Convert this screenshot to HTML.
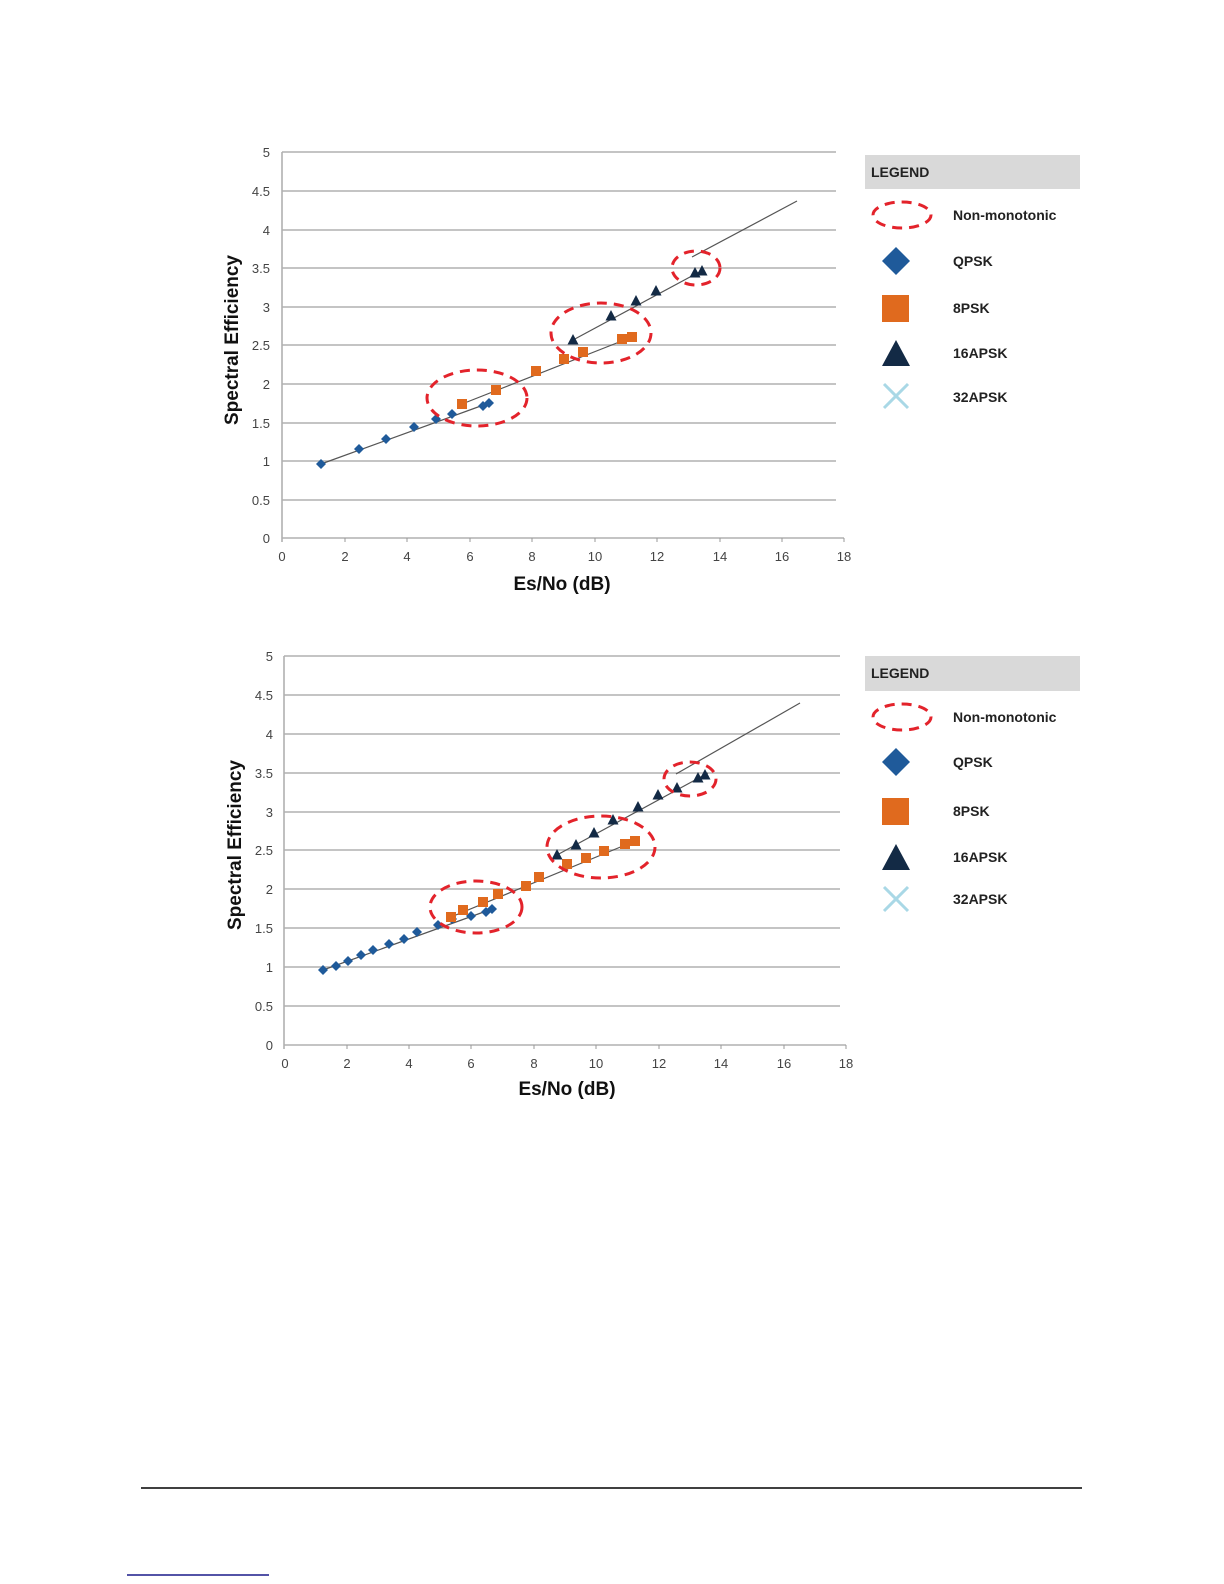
<!DOCTYPE html>
<html><head><meta charset="utf-8"><style>
html,body{margin:0;padding:0;background:#fff;}
svg{display:block;}
.tk{font-family:"Liberation Sans",Arial,sans-serif;font-size:13px;fill:#444;}
.ax{font-family:"Liberation Sans",Arial,sans-serif;font-size:19px;font-weight:bold;fill:#111;}
.lg{font-family:"Liberation Sans",Arial,sans-serif;font-size:14px;font-weight:bold;fill:#222;}
</style></head><body>
<svg width="1224" height="1584" viewBox="0 0 1224 1584" xmlns="http://www.w3.org/2000/svg">
<defs>
<g id="dm"><path d="M0,-5 L5,0 L0,5 L-5,0Z" fill="#1f5a9a"/></g>
<g id="sq"><rect x="-5" y="-5" width="10" height="10" fill="#e06a1e"/></g>
<g id="tr"><path d="M0,-6 L5.5,4.5 L-5.5,4.5Z" fill="#132a45"/></g>
</defs>

<!-- ===== CHART 1 ===== -->
<g stroke="#b0b0b0" stroke-width="1.6">
<line x1="282" y1="152" x2="836" y2="152"/><line x1="282" y1="191" x2="836" y2="191"/>
<line x1="282" y1="230" x2="836" y2="230"/><line x1="282" y1="268" x2="836" y2="268"/>
<line x1="282" y1="307" x2="836" y2="307"/><line x1="282" y1="345" x2="836" y2="345"/>
<line x1="282" y1="384" x2="836" y2="384"/><line x1="282" y1="423" x2="836" y2="423"/>
<line x1="282" y1="461" x2="836" y2="461"/><line x1="282" y1="500" x2="836" y2="500"/>
<line x1="282" y1="538" x2="844" y2="538"/>
<line x1="282" y1="152" x2="282" y2="542"/>
</g>
<g stroke="#999" stroke-width="1">
<line x1="345" y1="538" x2="345" y2="542"/><line x1="407" y1="538" x2="407" y2="542"/><line x1="470" y1="538" x2="470" y2="542"/><line x1="532" y1="538" x2="532" y2="542"/><line x1="595" y1="538" x2="595" y2="542"/><line x1="657" y1="538" x2="657" y2="542"/><line x1="720" y1="538" x2="720" y2="542"/><line x1="782" y1="538" x2="782" y2="542"/><line x1="844" y1="538" x2="844" y2="542"/>
</g>
<g class="tk" text-anchor="end">
<text x="270" y="157">5</text><text x="270" y="196">4.5</text><text x="270" y="235">4</text><text x="270" y="273">3.5</text><text x="270" y="312">3</text><text x="270" y="350">2.5</text><text x="270" y="389">2</text><text x="270" y="428">1.5</text><text x="270" y="466">1</text><text x="270" y="505">0.5</text><text x="270" y="543">0</text>
</g>
<g class="tk" text-anchor="middle">
<text x="282" y="561">0</text><text x="345" y="561">2</text><text x="407" y="561">4</text><text x="470" y="561">6</text><text x="532" y="561">8</text><text x="595" y="561">10</text><text x="657" y="561">12</text><text x="720" y="561">14</text><text x="782" y="561">16</text><text x="844" y="561">18</text>
</g>
<text class="ax" text-anchor="middle" transform="translate(238,340) rotate(-90)">Spectral Efficiency</text>
<text class="ax" text-anchor="middle" x="562" y="590">Es/No (dB)</text>

<g stroke="#555" stroke-width="1.2" fill="none">
<line x1="321" y1="464" x2="489" y2="403"/>
<line x1="462" y1="404" x2="632" y2="337"/>
<line x1="573" y1="340" x2="703" y2="270"/>
<line x1="692" y1="257" x2="797" y2="201"/>
</g>
<g>
<use href="#dm" x="321" y="464"/><use href="#dm" x="359" y="449"/><use href="#dm" x="386" y="439"/><use href="#dm" x="414" y="427"/><use href="#dm" x="436" y="419"/><use href="#dm" x="452" y="414"/><use href="#dm" x="483" y="406"/><use href="#dm" x="489" y="403"/>
<use href="#sq" x="462" y="404"/><use href="#sq" x="496" y="390"/><use href="#sq" x="536" y="371"/><use href="#sq" x="564" y="359"/><use href="#sq" x="583" y="352"/><use href="#sq" x="622" y="339"/><use href="#sq" x="632" y="337"/>
<use href="#tr" x="573" y="340"/><use href="#tr" x="611" y="316"/><use href="#tr" x="636" y="301"/><use href="#tr" x="656" y="291"/><use href="#tr" x="695" y="273"/><use href="#tr" x="702" y="271"/>
</g>
<g fill="none" stroke="#e3232b" stroke-width="3" stroke-dasharray="10,7">
<ellipse cx="477" cy="398" rx="50" ry="28"/>
<ellipse cx="601" cy="333" rx="50" ry="30"/>
<ellipse cx="696" cy="268" rx="24" ry="17"/>
</g>

<!-- legend 1 -->
<rect x="865" y="155" width="215" height="34" fill="#d9d9d9"/>
<text class="lg" x="871" y="177">LEGEND</text>
<ellipse cx="902" cy="215" rx="29" ry="13" fill="none" stroke="#e3232b" stroke-width="3" stroke-dasharray="10,7"/>
<text class="lg" x="953" y="220">Non-monotonic</text>
<path d="M896,247 L910,261 L896,275 L882,261Z" fill="#1f5a9a"/>
<text class="lg" x="953" y="266">QPSK</text>
<rect x="882" y="295" width="27" height="27" fill="#e06a1e"/>
<text class="lg" x="953" y="313">8PSK</text>
<path d="M896,340 L910,366 L882,366Z" fill="#132a45"/>
<text class="lg" x="953" y="358">16APSK</text>
<g stroke="#a9d8e6" stroke-width="3"><line x1="884" y1="384" x2="908" y2="408"/><line x1="908" y1="384" x2="884" y2="408"/></g>
<text class="lg" x="953" y="402">32APSK</text>

<!-- ===== CHART 2 ===== -->
<g stroke="#b0b0b0" stroke-width="1.6">
<line x1="284" y1="656" x2="840" y2="656"/><line x1="284" y1="695" x2="840" y2="695"/>
<line x1="284" y1="734" x2="840" y2="734"/><line x1="284" y1="773" x2="840" y2="773"/>
<line x1="284" y1="812" x2="840" y2="812"/><line x1="284" y1="850" x2="840" y2="850"/>
<line x1="284" y1="889" x2="840" y2="889"/><line x1="284" y1="928" x2="840" y2="928"/>
<line x1="284" y1="967" x2="840" y2="967"/><line x1="284" y1="1006" x2="840" y2="1006"/>
<line x1="284" y1="1045" x2="846" y2="1045"/>
<line x1="284" y1="656" x2="284" y2="1049"/>
</g>
<g stroke="#999" stroke-width="1">
<line x1="347" y1="1045" x2="347" y2="1049"/><line x1="409" y1="1045" x2="409" y2="1049"/><line x1="471" y1="1045" x2="471" y2="1049"/><line x1="534" y1="1045" x2="534" y2="1049"/><line x1="596" y1="1045" x2="596" y2="1049"/><line x1="659" y1="1045" x2="659" y2="1049"/><line x1="721" y1="1045" x2="721" y2="1049"/><line x1="784" y1="1045" x2="784" y2="1049"/><line x1="846" y1="1045" x2="846" y2="1049"/>
</g>
<g class="tk" text-anchor="end">
<text x="273" y="661">5</text><text x="273" y="700">4.5</text><text x="273" y="739">4</text><text x="273" y="778">3.5</text><text x="273" y="817">3</text><text x="273" y="855">2.5</text><text x="273" y="894">2</text><text x="273" y="933">1.5</text><text x="273" y="972">1</text><text x="273" y="1011">0.5</text><text x="273" y="1050">0</text>
</g>
<g class="tk" text-anchor="middle">
<text x="285" y="1068">0</text><text x="347" y="1068">2</text><text x="409" y="1068">4</text><text x="471" y="1068">6</text><text x="534" y="1068">8</text><text x="596" y="1068">10</text><text x="659" y="1068">12</text><text x="721" y="1068">14</text><text x="784" y="1068">16</text><text x="846" y="1068">18</text>
</g>
<text class="ax" text-anchor="middle" transform="translate(241,845) rotate(-90)">Spectral Efficiency</text>
<text class="ax" text-anchor="middle" x="567" y="1095">Es/No (dB)</text>

<g stroke="#555" stroke-width="1.2" fill="none">
<line x1="323" y1="970" x2="492" y2="909"/>
<line x1="451" y1="917" x2="635" y2="841"/>
<line x1="557" y1="855" x2="708" y2="773"/>
<line x1="676" y1="774" x2="800" y2="703"/>
</g>
<g>
<use href="#dm" x="323" y="970"/><use href="#dm" x="336" y="966"/><use href="#dm" x="348" y="961"/><use href="#dm" x="361" y="955"/><use href="#dm" x="373" y="950"/><use href="#dm" x="389" y="944"/><use href="#dm" x="404" y="939"/><use href="#dm" x="417" y="932"/><use href="#dm" x="438" y="925"/><use href="#dm" x="452" y="919"/><use href="#dm" x="471" y="916"/><use href="#dm" x="486" y="912"/><use href="#dm" x="492" y="909"/>
<use href="#sq" x="451" y="917"/><use href="#sq" x="463" y="910"/><use href="#sq" x="483" y="902"/><use href="#sq" x="498" y="894"/><use href="#sq" x="526" y="886"/><use href="#sq" x="539" y="877"/><use href="#sq" x="567" y="864"/><use href="#sq" x="586" y="858"/><use href="#sq" x="604" y="851"/><use href="#sq" x="625" y="844"/><use href="#sq" x="635" y="841"/>
<use href="#tr" x="557" y="855"/><use href="#tr" x="576" y="845"/><use href="#tr" x="594" y="833"/><use href="#tr" x="613" y="820"/><use href="#tr" x="638" y="807"/><use href="#tr" x="658" y="795"/><use href="#tr" x="677" y="788"/><use href="#tr" x="698" y="778"/><use href="#tr" x="705" y="775"/>
</g>
<g fill="none" stroke="#e3232b" stroke-width="3" stroke-dasharray="10,7">
<ellipse cx="476" cy="907" rx="46" ry="26"/>
<ellipse cx="601" cy="847" rx="54" ry="31"/>
<ellipse cx="690" cy="779" rx="26" ry="17"/>
</g>

<!-- legend 2 -->
<rect x="865" y="656" width="215" height="35" fill="#d9d9d9"/>
<text class="lg" x="871" y="678">LEGEND</text>
<ellipse cx="902" cy="717" rx="29" ry="13" fill="none" stroke="#e3232b" stroke-width="3" stroke-dasharray="10,7"/>
<text class="lg" x="953" y="722">Non-monotonic</text>
<path d="M896,748 L910,762 L896,776 L882,762Z" fill="#1f5a9a"/>
<text class="lg" x="953" y="767">QPSK</text>
<rect x="882" y="798" width="27" height="27" fill="#e06a1e"/>
<text class="lg" x="953" y="816">8PSK</text>
<path d="M896,844 L910,870 L882,870Z" fill="#132a45"/>
<text class="lg" x="953" y="862">16APSK</text>
<g stroke="#a9d8e6" stroke-width="3"><line x1="884" y1="887" x2="908" y2="911"/><line x1="908" y1="887" x2="884" y2="911"/></g>
<text class="lg" x="953" y="904">32APSK</text>

<!-- footer lines -->
<line x1="141" y1="1488" x2="1082" y2="1488" stroke="#000" stroke-width="1.5"/>
<line x1="127" y1="1575" x2="269" y2="1575" stroke="#1a1a8a" stroke-width="1.5"/>
</svg>
</body></html>
